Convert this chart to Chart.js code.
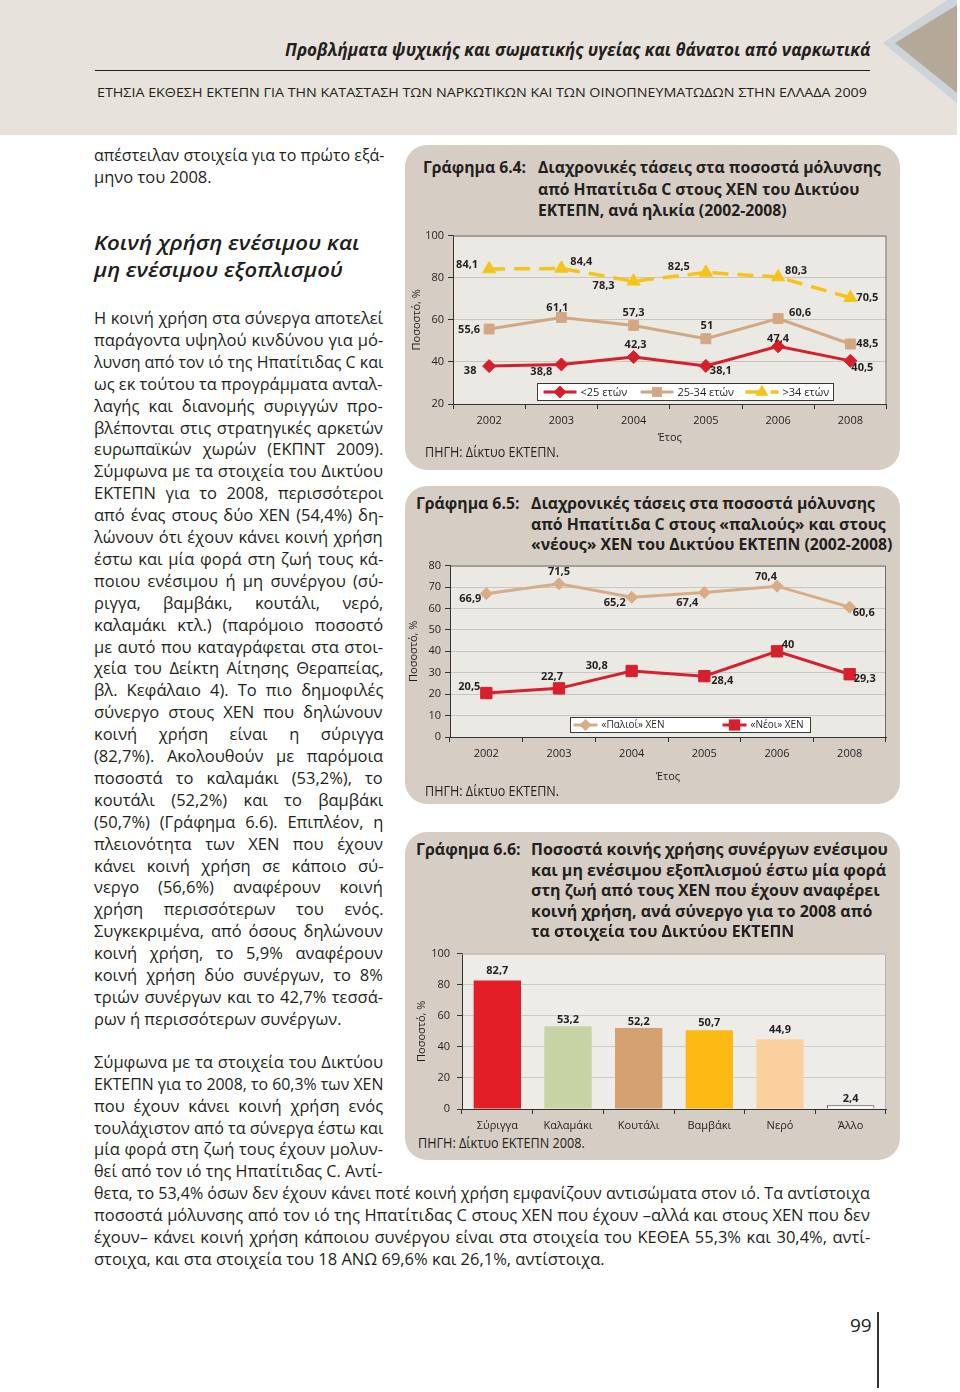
<!DOCTYPE html>
<html lang="el">
<head>
<meta charset="utf-8">
<title>ΕΚΤΕΠΝ 2009 – Γραφήματα 6.4–6.6</title>
<script src="https://cdn.jsdelivr.net/npm/chart.js@4.4.1/dist/chart.umd.min.js"></script>
<style>
	html, body { margin: 0; padding: 0; background: #fff; }
	#page { position: relative; width: 960px; height: 1392px; overflow: hidden;
		font-family: "Open Sans", "Noto Sans", sans-serif; color: #231f20; }
	.box { position: absolute; }
	.band { left: 0; top: 0; width: 957px; height: 135px; background: #e7e2dc; }
	.tri-light { left: 883px; top: 0; width: 74px; height: 103px; background: #ccd3d9;
		clip-path: polygon(0 43px, 64px 0, 74px 0, 74px 103px); }
	.tri-dark { left: 895px; top: 5px; width: 62px; height: 88px; background: #b4a898;
		clip-path: polygon(0 38px, 62px 0, 62px 88px); }
	.rule { left: 95px; top: 70px; width: 775px; height: 1px; background: #231f20; }
	.panel { position: absolute; left: 405px; width: 495px; background: #d6cec4; border-radius: 22px; }
	.ln { position: absolute; white-space: nowrap; transform: translateY(-50%); }
	.ln span { display: inline-block; transform-origin: 0 50%; }
	.hdr { font-size: 18px; font-weight: 700; font-style: italic; line-height: 24px; }
	.sub { font-size: 13.5px; line-height: 18px; }
	.h2 { font-size: 20px; font-weight: 600; font-style: italic; line-height: 26px; color: #1d1d1b; }
	.txt { font-size: 16.5px; line-height: 22px; }
	.ttl { font-size: 16px; font-weight: 700; line-height: 21px; }
	.src { font-size: 14px; line-height: 18px; }
	.pgno { font-size: 19px; line-height: 24px; }
	.pgline { left: 877px; top: 1312px; width: 1.5px; height: 76px; background: #333; }
	canvas { position: absolute; }
</style>
</head>
<body>
<div id="page">
	<div class="box band"></div>
	<div class="box tri-light"></div>
	<div class="box tri-dark"></div>
	<div class="box rule"></div>

	<div class="panel" style="top:145px;height:325px"></div>
	<div class="panel" style="top:486px;height:318px"></div>
	<div class="panel" style="top:832px;height:328px"></div>

	<canvas id="chart64" width="490" height="225" style="left:405px;top:225px"></canvas>
	<canvas id="chart65" width="490" height="235" style="left:405px;top:555px"></canvas>
	<canvas id="chart66" width="490" height="193" style="left:405px;top:940px"></canvas>

	<div class="box pgline"></div>
</div>

<script>
// ---- chart data ----
const years = ["2002", "2003", "2004", "2005", "2006", "2008"]

const ageUnder25 = [38, 38.8, 42.3, 38.1, 47.4, 40.5]
const age25to34 = [55.6, 61.1, 57.3, 51, 60.6, 48.5]
const ageOver34 = [84.1, 84.4, 78.3, 82.5, 80.3, 70.5]

const oldUsers = [66.9, 71.5, 65.2, 67.4, 70.4, 60.6]
const newUsers = [20.5, 22.7, 30.8, 28.4, 40, 29.3]

const tools = ["Σύριγγα", "Καλαμάκι", "Κουτάλι", "Βαμβάκι", "Νερό", "Άλλο"]
const toolShares = [82.7, 53.2, 52.2, 50.7, 44.9, 2.4]

// ---- page text ----
const headerTitle = "Προβλήματα ψυχικής και σωματικής υγείας και θάνατοι από ναρκωτικά"
const headerSub = "ΕΤΗΣΙΑ ΕΚΘΕΣΗ ΕΚΤΕΠΝ ΓΙΑ ΤΗΝ ΚΑΤΑΣΤΑΣΗ ΤΩΝ ΝΑΡΚΩΤΙΚΩΝ ΚΑΙ ΤΩΝ ΟΙΝΟΠΝΕΥΜΑΤΩΔΩΝ ΣΤΗΝ ΕΛΛΑΔΑ 2009"

const introLines = [
	"απέστειλαν στοιχεία για το πρώτο εξά-",
	"μηνο του 2008."
]

const headingLines = ["Κοινή χρήση ενέσιμου και", "μη ενέσιμου εξοπλισμού"]

const sharingLines = [
	"Η κοινή χρήση στα σύνεργα αποτελεί",
	"παράγοντα υψηλού κινδύνου για μό-",
	"λυνση από τον ιό της Ηπατίτιδας C και",
	"ως εκ τούτου τα προγράμματα ανταλ-",
	"λαγής και διανομής συριγγών προ-",
	"βλέπονται στις στρατηγικές αρκετών",
	"ευρωπαϊκών χωρών (ΕΚΠΝΤ 2009).",
	"Σύμφωνα με τα στοιχεία του Δικτύου",
	"ΕΚΤΕΠΝ για το 2008, περισσότεροι",
	"από ένας στους δύο ΧΕΝ (54,4%) δη-",
	"λώνουν ότι έχουν κάνει κοινή χρήση",
	"έστω και μία φορά στη ζωή τους κά-",
	"ποιου ενέσιμου ή μη συνέργου (σύ-",
	"ριγγα, βαμβάκι, κουτάλι, νερό,",
	"καλαμάκι κτλ.) (παρόμοιο ποσοστό",
	"με αυτό που καταγράφεται στα στοι-",
	"χεία του Δείκτη Αίτησης Θεραπείας,",
	"βλ. Κεφάλαιο 4). Το πιο δημοφιλές",
	"σύνεργο στους ΧΕΝ που δηλώνουν",
	"κοινή χρήση είναι η σύριγγα",
	"(82,7%). Ακολουθούν με παρόμοια",
	"ποσοστά το καλαμάκι (53,2%), το",
	"κουτάλι (52,2%) και το βαμβάκι",
	"(50,7%) (Γράφημα 6.6). Επιπλέον, η",
	"πλειονότητα των ΧΕΝ που έχουν",
	"κάνει κοινή χρήση σε κάποιο σύ-",
	"νεργο (56,6%) αναφέρουν κοινή",
	"χρήση περισσότερων του ενός.",
	"Συγκεκριμένα, από όσους δηλώνουν",
	"κοινή χρήση, το 5,9% αναφέρουν",
	"κοινή χρήση δύο συνέργων, το 8%",
	"τριών συνέργων και το 42,7% τεσσά-",
	"ρων ή περισσότερων συνέργων."
]

const infectionLines = [
	"Σύμφωνα με τα στοιχεία του Δικτύου",
	"ΕΚΤΕΠΝ για το 2008, το 60,3% των ΧΕΝ",
	"που έχουν κάνει κοινή χρήση ενός",
	"τουλάχιστον από τα σύνεργα έστω και",
	"μία φορά στη ζωή τους έχουν μολυν-",
	"θεί από τον ιό της Ηπατίτιδας C. Αντί-"
]

const closingLines = [
	"θετα, το 53,4% όσων δεν έχουν κάνει ποτέ κοινή χρήση εμφανίζουν αντισώματα στον ιό. Τα αντίστοιχα",
	"ποσοστά μόλυνσης από τον ιό της Ηπατίτιδας C στους ΧΕΝ που έχουν –αλλά και στους ΧΕΝ που δεν",
	"έχουν– κάνει κοινή χρήση κάποιου συνέργου είναι στα στοιχεία του ΚΕΘΕΑ 55,3% και 30,4%, αντί-",
	"στοιχα, και στα στοιχεία του 18 ΑΝΩ 69,6% και 26,1%, αντίστοιχα."
]

const page = document.getElementById("page")
const pending = []

function addLine(text, x, cy, cls, fit) {
	const div = document.createElement("div")
	div.className = "ln " + cls
	div.style.left = x + "px"
	div.style.top = cy + "px"
	const span = document.createElement("span")
	span.textContent = text
	div.appendChild(span)
	page.appendChild(div)
	if (fit) pending.push(() => applyFit(span, fit))
	return span
}

// squeeze / stretch / justify one line into its column width
function applyFit(span, fit) {
	const w = span.offsetWidth
	const base = fit.squeeze || 1
	if (fit.mode === "stretch" || w * base > fit.width) {
		span.style.transform = `scaleX(${fit.width / w})`
		return
	}
	if (base !== 1) span.style.transform = `scaleX(${base})`
	if (fit.mode === "justify") {
		const gaps = span.textContent.split(" ").length - 1
		if (gaps) span.style.wordSpacing = ((fit.width / base - w) / gaps) + "px"
	}
}

function addParagraph(lines, x, top, step, width, squeeze, lastJustified) {
	lines.forEach((t, i) => {
		const isLast = i === lines.length - 1 && !lastJustified
		addLine(t, x, top + i * step, "txt", { mode: isLast ? "none" : "justify", width, squeeze })
	})
}

function addTitle(label, lines, lx, tx, top, step, firstWidth) {
	const spans = [addLine(label, lx, top, "ttl")]
	lines.forEach((t, i) => spans.push(addLine(t, tx, top + i * step, "ttl")))
	pending.push(() => {
		const s = firstWidth / spans[1].offsetWidth
		spans.forEach(sp => { sp.style.transform = `scaleX(${s})` })
	})
}

// header
addLine(headerTitle, 285, 49, "hdr", { mode: "stretch", width: 585 })
addLine(headerSub, 97, 92, "sub", { mode: "stretch", width: 770 })

// left column
addParagraph(introLines, 94, 155, 21.5, 290, 1, false)
addLine(headingLines[0], 94, 243, "h2", { mode: "stretch", width: 265 })
addLine(headingLines[1], 94, 270, "h2", { mode: "stretch", width: 249 })
addParagraph(sharingLines, 94, 318, 21.9, 289, 1, false)
addParagraph(infectionLines, 94, 1062, 21.85, 289, 1, true)
addParagraph(closingLines, 94, 1193, 22, 776, 1, false)

// chart titles and sources
addTitle("Γράφημα 6.4:", [
	"Διαχρονικές τάσεις στα ποσοστά μόλυνσης",
	"από Ηπατίτιδα C στους ΧΕΝ του Δικτύου",
	"ΕΚΤΕΠΝ, ανά ηλικία (2002-2008)"
], 423, 538, 167, 21.5, 343)
addTitle("Γράφημα 6.5:", [
	"Διαχρονικές τάσεις στα ποσοστά μόλυνσης",
	"από Ηπατίτιδα C στους «παλιούς» και στους",
	"«νέους» ΧΕΝ του Δικτύου ΕΚΤΕΠΝ (2002-2008)"
], 416, 531, 503, 20.5, 344)
addTitle("Γράφημα 6.6:", [
	"Ποσοστά κοινής χρήσης συνέργων ενέσιμου",
	"και μη ενέσιμου εξοπλισμού έστω μία φορά",
	"στη ζωή από τους ΧΕΝ που έχουν αναφέρει",
	"κοινή χρήση, ανά σύνεργο για το 2008 από",
	"τα στοιχεία του Δικτύου ΕΚΤΕΠΝ"
], 416, 531, 849, 20.5, 357)

addLine("ΠΗΓΗ: Δίκτυο ΕΚΤΕΠΝ.", 425, 452, "src", { mode: "stretch", width: 134 })
addLine("ΠΗΓΗ: Δίκτυο ΕΚΤΕΠΝ.", 425, 791, "src", { mode: "stretch", width: 134 })
addLine("ΠΗΓΗ: Δίκτυο ΕΚΤΕΠΝ 2008.", 418, 1143, "src", { mode: "stretch", width: 167 })

addLine("99", 850, 1325, "pgno")

pending.forEach(fn => fn())

// ---- charts ----
Chart.defaults.font.family = '"Open Sans", "Noto Sans", sans-serif'
Chart.defaults.font.size = 11
Chart.defaults.color = "#231f20"

const fmt = v => String(v).replace(".", ",")

function marker(ctx, style, x, y, r) {
	ctx.beginPath()
	if (style === "rect") {
		const s = r * Math.SQRT1_2
		ctx.rect(x - s, y - s, 2 * s, 2 * s)
	} else if (style === "rectRot") {
		ctx.moveTo(x - r, y)
		ctx.lineTo(x, y - r)
		ctx.lineTo(x + r, y)
		ctx.lineTo(x, y + r)
		ctx.closePath()
	} else {
		ctx.moveTo(x, y - r)
		ctx.lineTo(x + r * 0.866, y + r / 2)
		ctx.lineTo(x - r * 0.866, y + r / 2)
		ctx.closePath()
	}
	ctx.fill()
}

const plotFrame = {
	id: "plotFrame",
	beforeDraw(chart, args, o) {
		const { ctx, chartArea: a } = chart
		ctx.save()
		ctx.fillStyle = o.fill
		ctx.fillRect(a.left, a.top, a.right - a.left, a.bottom - a.top)
		ctx.restore()
	},
	beforeDatasetsDraw(chart, args, o) {
		const { ctx, chartArea: a } = chart
		ctx.save()
		ctx.strokeStyle = o.edge
		ctx.lineWidth = 1
		ctx.beginPath()
		ctx.moveTo(a.left, a.top + 0.5)
		ctx.lineTo(a.right - 0.5, a.top + 0.5)
		ctx.lineTo(a.right - 0.5, a.bottom)
		ctx.stroke()
		ctx.restore()
	}
}

const valueLabels = {
	id: "valueLabels",
	afterDatasetsDraw(chart) {
		const ctx = chart.ctx
		ctx.save()
		ctx.font = '700 11px "Open Sans", "Noto Sans", sans-serif'
		ctx.fillStyle = "#231f20"
		ctx.textAlign = "center"
		ctx.textBaseline = "middle"
		chart.data.datasets.forEach((ds, i) => {
			chart.getDatasetMeta(i).data.forEach((el, j) => {
				const [dx, dy] = ds.labelShift[j]
				ctx.fillText(fmt(ds.data[j]), el.x + dx, el.y + dy)
			})
		})
		ctx.restore()
	}
}

const boxLegend = {
	id: "boxLegend",
	afterDraw(chart, args, o) {
		const { ctx, chartArea: a } = chart
		const x = Math.round(a.left + o.x) + 0.5
		const y = Math.round(a.top + o.y) + 0.5
		const cy = y + o.h / 2
		ctx.save()
		ctx.fillStyle = "#fff"
		ctx.fillRect(x, y, o.w, o.h)
		ctx.strokeStyle = "#3a3a3a"
		ctx.lineWidth = 1
		ctx.strokeRect(x, y, o.w, o.h)
		ctx.font = o.fontSize + 'px "Open Sans", "Noto Sans", sans-serif'
		ctx.textBaseline = "middle"
		chart.data.datasets.forEach(ds => {
			const sx = x + ds.legendX
			ctx.strokeStyle = ds.borderColor
			ctx.lineWidth = ds.borderWidth
			ctx.setLineDash(ds.borderDash || [])
			ctx.beginPath()
			ctx.moveTo(sx, cy)
			ctx.lineTo(sx + o.sample, cy)
			ctx.stroke()
			ctx.setLineDash([])
			ctx.fillStyle = ds.pointBackgroundColor
			marker(ctx, ds.pointStyle, sx + o.sample / 2, cy, ds.pointRadius)
			ctx.fillStyle = "#231f20"
			ctx.fillText(ds.label, sx + o.sample + 4, cy + 0.5)
		})
		ctx.restore()
	}
}

function yAxis(min, max, step, width, titlePad, tickPad, gridColor) {
	return {
		min: min,
		max: max,
		ticks: { stepSize: step, padding: tickPad, color: "#231f20" },
		grid: { color: gridColor, tickColor: "#333", tickLength: 5 },
		border: { color: "#333" },
		title: {
			display: true,
			text: "Ποσοστό, %",
			color: "#231f20",
			padding: { top: titlePad, bottom: 0 }
		},
		afterFit(scale) { scale.width = width }
	}
}

function xAxis(height, titlePad) {
	return {
		offset: true,
		grid: { offset: true, drawOnChartArea: false, tickColor: "#333", tickLength: 5 },
		border: { color: "#333" },
		ticks: { padding: 5, color: "#231f20" },
		title: {
			display: titlePad !== null,
			text: "Έτος",
			color: "#231f20",
			padding: { top: 0, bottom: titlePad || 0 }
		},
		afterFit(scale) { scale.height = height }
	}
}

function lineSeries(label, data, color, style, radius, extra) {
	return Object.assign({
		label: label,
		data: data,
		borderColor: color,
		backgroundColor: color,
		borderWidth: 3,
		pointStyle: style,
		pointRadius: radius,
		pointBackgroundColor: color,
		pointBorderColor: color,
		pointBorderWidth: 1,
		tension: 0
	}, extra)
}

// Γράφημα 6.4
new Chart("chart64", {
	type: "line",
	data: {
		labels: years,
		datasets: [
			lineSeries("<25 ετών", ageUnder25, "#d71f2b", "rectRot", 6.5, {
				legendX: 6,
				labelShift: [[-19, 5], [-20, 7], [2, -12], [15, 5], [0, -7], [12, 7]]
			}),
			lineSeries("25-34 ετών", age25to34, "#d2a784", "rect", 7, {
				legendX: 103,
				labelShift: [[-20, 1], [-4, -10], [0, -13], [1, -13], [22, -6], [17, 0]]
			}),
			lineSeries(">34 ετών", ageOver34, "#f5c41a", "triangle", 7.5, {
				borderWidth: 3.5,
				borderDash: [16, 9],
				legendX: 208,
				labelShift: [[-22, -4], [20, -7], [-30, 5], [-27, -6], [18, -6], [17, 0]]
			})
		]
	},
	options: {
		responsive: false,
		animation: false,
		layout: { padding: { top: 7, right: 7, left: 0, bottom: 0 } },
		plugins: {
			legend: { display: false },
			tooltip: { enabled: false },
			plotFrame: { fill: "#ebe9e4", edge: "#6b6b6b" },
			boxLegend: { x: 84, y: 147, w: 296, h: 17, sample: 33, fontSize: 11 }
		},
		scales: {
			x: xAxis(46, 6),
			y: yAxis(20, 100, 20, 48, 5, 4, "#c9c6c1")
		}
	},
	plugins: [plotFrame, valueLabels, boxLegend]
})

// Γράφημα 6.5
new Chart("chart65", {
	type: "line",
	data: {
		labels: years,
		datasets: [
			lineSeries("«Παλιοί» ΧΕΝ", oldUsers, "#d8ac87", "rectRot", 6, {
				legendX: 3,
				labelShift: [[-16, 5], [0, -12], [-17, 6], [-17, 10], [-11, -9], [14, 6]]
			}),
			lineSeries("«Νέοι» ΧΕΝ", newUsers, "#d81f2d", "rect", 8, {
				legendX: 152,
				labelShift: [[-17, -6], [-7, -12], [-35, -5], [18, 5], [11, -6], [15, 5]]
			})
		]
	},
	options: {
		responsive: false,
		animation: false,
		layout: { padding: { top: 10, right: 4, left: 0, bottom: 0 } },
		plugins: {
			legend: { display: false },
			tooltip: { enabled: false },
			plotFrame: { fill: "#ebe9e4", edge: "#6b6b6b" },
			boxLegend: { x: 120, y: 151, w: 240, h: 15, sample: 24, fontSize: 10 }
		},
		scales: {
			x: xAxis(53, 7),
			y: yAxis(0, 80, 10, 45, 2, 4, "#c9c6c1")
		}
	},
	plugins: [plotFrame, valueLabels, boxLegend]
})

// Γράφημα 6.6
new Chart("chart66", {
	type: "bar",
	data: {
		labels: tools,
		datasets: [{
			data: toolShares,
			backgroundColor: ["#e31e26", "#c6d3a5", "#d6a171", "#fdb913", "#fcd09c", "#ffffff"],
			borderColor: "#4a4a4a",
			borderWidth: [0, 0, 0, 0, 0, 1],
			barPercentage: 0.67,
			categoryPercentage: 1,
			labelShift: [[0, -10], [0, -6], [0, -6], [0, -7], [0, -9], [0, -6]]
		}]
	},
	options: {
		responsive: false,
		animation: false,
		layout: { padding: { top: 9, right: 9, left: 0, bottom: 0 } },
		plugins: {
			legend: { display: false },
			tooltip: { enabled: false },
			plotFrame: { fill: "#eeece9", edge: "#b5b0a9" }
		},
		scales: {
			x: xAxis(24, null),
			y: yAxis(0, 100, 20, 57, 10, 7, "#cfcbc5")
		}
	},
	plugins: [plotFrame, valueLabels]
})
</script>
</body>
</html>
